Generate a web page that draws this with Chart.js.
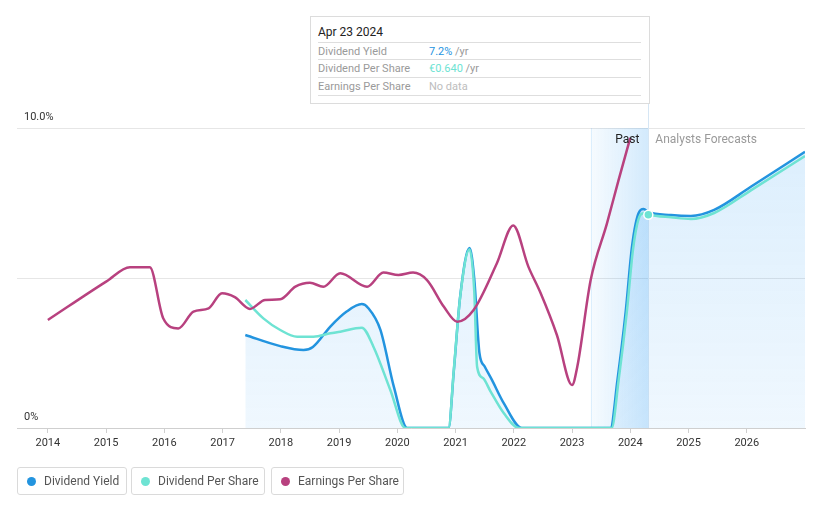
<!DOCTYPE html>
<html>
<head>
<meta charset="utf-8">
<script src="https://cdn.jsdelivr.net/npm/chart.js@4.4.1/dist/chart.umd.min.js"></script>
<style>
  html, body { margin:0; padding:0; background:#fff; }
  body { width:821px; height:508px; position:relative; overflow:hidden; font-family: Roboto, "Open Sans", sans-serif; }
  #c { position:absolute; left:0; top:0; }
  .tip { position:absolute; left:310px; top:16px; width:338px; height:86px; border:1px solid #dcdcdc; background:#fff; box-sizing:content-box; }
  .tip .t { position:absolute; left:7px; top:8px; font-size:12px; color:#222; font-weight:400; }
  .tip .row { position:absolute; left:7px; width:323px; height:17px; border-top:1px solid #dedede; font-size:11px; line-height:17px; color:#9a9a9a; }
  .tip .row .v { position:absolute; left:111px; top:0; }
  .legend { position:absolute; top:467px; height:28px; border:1px solid #dadada; border-radius:3px; box-sizing:border-box; font-size:12px; color:#555; line-height:26px; padding-left:26px; }
  .legend .dot { position:absolute; left:9px; top:9px; width:9px; height:9px; border-radius:50%; }
</style>
</head>
<body>
<canvas id="c" width="821" height="508"></canvas>

<div class="tip">
  <div class="t">Apr 23 2024</div>
  <div class="row" style="top:25px;">Dividend Yield<span class="v"><span style="color:#2394df">7.2%</span> /yr</span></div>
  <div class="row" style="top:42px;">Dividend Per Share<span class="v"><span style="color:#6ee3d3">€0.640</span> /yr</span></div>
  <div class="row" style="top:60px; border-bottom:1px solid #dedede;">Earnings Per Share<span class="v" style="color:#bdbdbd">No data</span></div>
</div>

<div class="legend" style="left:17px; width:110px;"><span class="dot" style="background:#2394df"></span>Dividend Yield</div>
<div class="legend" style="left:131px; width:134px;"><span class="dot" style="background:#6ee3d3"></span>Dividend Per Share</div>
<div class="legend" style="left:271px; width:133px;"><span class="dot" style="background:#b8417f"></span>Earnings Per Share</div>

<script>
// ---- Data ----
const tickYears = [2014, 2015, 2016, 2017, 2018, 2019, 2020, 2021, 2022, 2023, 2024, 2025, 2026];
const yLabels = ["0%", "10.0%"];

// Dividend Yield (%)
const yieldDates  = [2017.39, 2017.99, 2018.39, 2018.55, 2018.85, 2019.13, 2019.39, 2019.50, 2019.71, 2019.94, 2020.17,
                     2020.88, 2020.97, 2021.08, 2021.24, 2021.32, 2021.41, 2021.50, 2021.62, 2021.83, 2022.14,
                     2023.66, 2023.78, 2023.92, 2024.03, 2024.14, 2024.23, 2024.31,
                     2024.70, 2025.04, 2025.44, 2026.07, 2027.00];
const yieldValues = [3.10, 2.73, 2.60, 2.70, 3.38, 3.88, 4.13, 4.00, 3.27, 1.38, 0.00,
                     0.00, 1.90, 4.40, 6.00, 5.00, 2.50, 2.05, 1.62, 0.82, 0.00,
                     0.00, 1.60, 3.85, 6.05, 7.15, 7.30, 7.20,
                     7.10, 7.07, 7.27, 8.04, 9.21];

// Dividend Per Share (EUR)
const dpsDates  = [2017.39, 2017.70, 2017.99, 2018.28, 2018.56, 2018.85, 2019.02, 2019.39, 2019.59, 2019.88, 2020.14,
                   2020.88, 2020.97, 2021.08, 2021.24, 2021.32, 2021.37, 2021.47, 2021.60, 2021.83, 2022.09,
                   2023.68, 2023.80, 2023.94, 2024.05, 2024.16, 2024.23, 2024.31,
                   2024.70, 2025.04, 2025.44, 2026.07, 2027.00];
const dpsValues = [0.384, 0.329, 0.294, 0.274, 0.274, 0.284, 0.289, 0.301, 0.244, 0.114, 0.000,
                   0.000, 0.174, 0.394, 0.536, 0.414, 0.184, 0.150, 0.110, 0.044, 0.000,
                   0.000, 0.144, 0.347, 0.540, 0.635, 0.644, 0.640,
                   0.632, 0.627, 0.645, 0.713, 0.816];

// Earnings Per Share (EUR)
const epsDates  = [2014.00, 2015.00, 2015.41, 2015.75, 2015.98, 2016.24, 2016.50, 2016.76, 2016.99, 2017.21, 2017.47,
                   2017.73, 2017.99, 2018.25, 2018.50, 2018.73, 2019.02, 2019.48, 2019.76, 2020.02, 2020.27, 2020.51,
                   2020.80, 2021.03, 2021.31, 2021.71, 2021.99, 2022.25, 2022.46, 2022.74, 2023.00, 2023.09,
                   2023.32, 2023.60, 2023.80, 2024.00];
const epsValues = [0.360, 0.488, 0.536, 0.536, 0.366, 0.332, 0.388, 0.399, 0.449, 0.436, 0.397,
                   0.427, 0.429, 0.471, 0.484, 0.471, 0.516, 0.471, 0.518, 0.510, 0.518, 0.493,
                   0.404, 0.354, 0.393, 0.549, 0.675, 0.538, 0.450, 0.310, 0.143, 0.204,
                   0.493, 0.682, 0.827, 0.967];

const pastStart = 2023.32;
const hoverDate = 2024.31;

const zip = (xs, ys) => xs.map((x, i) => ({ x: x, y: ys[i] }));

const BLUE = '#2394df', TEAL = '#6ee3d3', MAGENTA = '#b8417f';

const overlay = {
  id: 'overlay',
  beforeDatasetsDraw(chart) {
    const { ctx, chartArea: { top, bottom }, scales: { x } } = chart;
    const x0 = x.getPixelForValue(pastStart), x1 = x.getPixelForValue(hoverDate);
    const g = ctx.createLinearGradient(x0, 0, x1, 0);
    g.addColorStop(0, 'rgba(33,150,243,0.04)');
    g.addColorStop(1, 'rgba(33,150,243,0.20)');
    ctx.save();
    ctx.fillStyle = g;
    ctx.fillRect(x0, top, x1 - x0, bottom - top);
    ctx.strokeStyle = 'rgba(33,150,243,0.12)';
    ctx.lineWidth = 1;
    ctx.beginPath(); ctx.moveTo(Math.round(x0) + 0.5, top); ctx.lineTo(Math.round(x0) + 0.5, bottom); ctx.stroke();
    ctx.strokeStyle = '#d6e6f4';
    ctx.beginPath(); ctx.moveTo(Math.round(x1) + 0.5, 103); ctx.lineTo(Math.round(x1) + 0.5, bottom); ctx.stroke();
    ctx.restore();
  },
  afterDatasetsDraw(chart) {
    const { ctx, chartArea: { left, top }, scales: { x, y } } = chart;
    const x1 = x.getPixelForValue(hoverDate);
    ctx.save();
    ctx.font = '11px Roboto, sans-serif';
    ctx.fillStyle = '#333';
    ctx.textBaseline = 'middle';
    ctx.textAlign = 'left';
    ctx.fillText(yLabels[1], left + 7, y.getPixelForValue(10) - 11);
    ctx.fillText(yLabels[0], left + 7, y.getPixelForValue(0) - 11);
    ctx.font = '12px Roboto, sans-serif';
    ctx.textAlign = 'right';
    ctx.fillStyle = '#222';
    ctx.fillText('Past', x1 - 9, top + 12);
    ctx.textAlign = 'left';
    ctx.fillStyle = '#9a9a9a';
    ctx.fillText('Analysts Forecasts', x1 + 7, top + 12);
    ctx.restore();
  }
};

const chart = new Chart(document.getElementById('c'), {
  type: 'line',
  data: {
    datasets: [
      {
        label: 'Earnings Per Share',
        data: zip(epsDates, epsValues),
        yAxisID: 'yEps',
        borderColor: MAGENTA,
        borderWidth: 2.5,
        pointRadius: 0,
        fill: false,
        cubicInterpolationMode: 'monotone'
      },
      {
        label: 'Dividend Per Share',
        data: zip(dpsDates, dpsValues),
        yAxisID: 'yDps',
        borderColor: TEAL,
        borderWidth: 2.5,
        pointRadius: ctx => (ctx.raw && ctx.raw.x === hoverDate ? 4.5 : 0),
        pointBackgroundColor: TEAL,
        pointBorderColor: '#fff',
        pointBorderWidth: 1.5,
        fill: false,
        cubicInterpolationMode: 'monotone'
      },
      {
        label: 'Dividend Yield',
        data: zip(yieldDates, yieldValues),
        yAxisID: 'y',
        borderColor: BLUE,
        borderWidth: 2.5,
        pointRadius: 0,
        fill: 'origin',
        backgroundColor: (ctx) => {
          const { chart } = ctx;
          const a = chart.chartArea;
          if (!a) return 'rgba(33,150,243,0.12)';
          const g = chart.ctx.createLinearGradient(0, a.top, 0, a.bottom);
          g.addColorStop(0, 'rgba(33,150,243,0.16)');
          g.addColorStop(1, 'rgba(33,150,243,0.07)');
          return g;
        },
        cubicInterpolationMode: 'monotone'
      }
    ]
  },
  options: {
    responsive: false,
    animation: false,
    devicePixelRatio: 1,
    layout: { padding: { top: 128, left: 17, right: 16, bottom: 0 } },
    plugins: { legend: { display: false }, tooltip: { enabled: false } },
    scales: {
      x: {
        type: 'linear',
        min: 2013.47,
        max: 2027.0,
        afterBuildTicks: (s) => { s.ticks = tickYears.map(v => ({ value: v })); },
        afterFit: (s) => { s.height = 80; },
        ticks: {
          callback: v => String(v),
          color: '#333',
          font: { family: 'Roboto', size: 11 },
          padding: 4,
          maxRotation: 0,
          autoSkip: false
        },
        grid: { display: true, drawOnChartArea: false, drawTicks: true, tickLength: 5, tickColor: '#cfcfcf' },
        border: { display: true, color: '#cfcfcf' }
      },
      y: {
        min: 0, max: 10,
        afterBuildTicks: (s) => { s.ticks = [0, 5, 10].map(v => ({ value: v })); },
        afterFit: (s) => { s.width = 0; },
        ticks: { display: false },
        grid: { color: '#e6e6e6', drawTicks: false },
        border: { display: false }
      },
      yDps: { display: false, min: 0, max: 0.9 },
      yEps: { display: false, min: 0, max: 1.0 }
    }
  },
  plugins: [overlay]
});
</script>
</body>
</html>
